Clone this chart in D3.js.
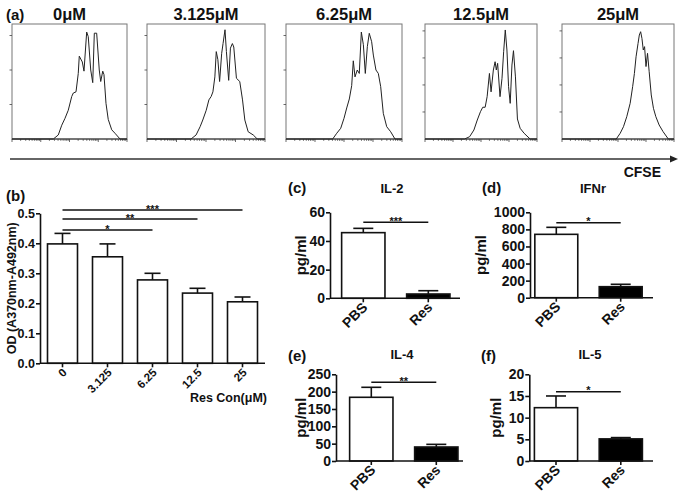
<!DOCTYPE html>
<html><head><meta charset="utf-8">
<script src="https://cdn.jsdelivr.net/npm/d3@7"></script>
<style>
body{margin:0;background:#fff}
text{font-family:Arial,"Liberation Sans",sans-serif;font-weight:bold;fill:#111}
</style>
</head><body><svg id="c" width="683" height="500"></svg>
<script>
// ---------- DATA ----------
const concLabels = ["0\u03BCM","3.125\u03BCM","6.25\u03BCM","12.5\u03BCM","25\u03BCM"];
// CFSE histograms: [channel (0-1024), % of max]
const hist0 = [[0,0],[368,0],[412,3.5],[443,12],[472,18],[501,25],[532,37],[546,40],[570,41],[590,57],[599,72],[626,67],[641,59],[665,93],[679,89],[701,60],[719,49],[733,92],[754,92],[777,60],[790,50],[808,59],[819,56],[837,31],[857,17],[888,8],[917,5],[962,0],[1024,0]];
const hist1 = [[0,0],[382,0],[426,3.5],[461,10.7],[484,16.5],[514,25],[537,34],[557,37],[572,41],[589,54],[601,76],[615,69],[630,50],[648,74.5],[660,83],[677,95],[689,76],[709,51],[724,79],[741,83],[753,80],[776,52.8],[805,50],[829,34],[849,16.5],[878,6.3],[922,3.5],[957,0],[1024,0]];
const hist2 = [[0,0],[412,0],[448,5],[483,9.3],[512,18],[536,27],[559,34.8],[580,46.4],[594,68],[609,54],[629,60],[647,57],[665,93],[683,82],[700,57],[718,80.3],[735,91.9],[756,84.6],[771,73],[794,60],[815,57],[836,45.5],[859,22.3],[889,10.7],[924,6.3],[962,0],[1024,0]];
const hist3 = [[0,0],[362,0],[408,2],[447,7.8],[478,16.5],[507,23.7],[528,27.6],[550,27.6],[568,36.8],[589,57],[604,41],[625,60],[641,67.2],[652,60],[664,65.8],[686,36.8],[704,52.8],[719,75.9],[734,94.8],[749,77.4],[764,45.5],[779,31],[795,64.3],[809,76.8],[827,54],[845,17.4],[870,9.3],[906,5],[961,0],[1024,0]];
const hist4 = [[0,0],[496,0],[532,5],[562,10.7],[592,19.4],[623,31],[646,45.5],[662,57],[677,71.5],[695,83],[707,90.4],[719,93.3],[731,87.5],[743,77.4],[755,80.3],[768,63],[782,74.5],[797,58.5],[816,38.3],[836,26.7],[858,19.4],[888,12.2],[924,6.4],[972,0],[1024,0]];
const histograms = [hist0, hist1, hist2, hist3, hist4];
const histYTicks = [[30,60,90],[30,60,90],[30,60,90],[23.5,47,70.5,94],[23.5,47,70.5,94]];

// Panel b
const odCategories = ["0","3.125","6.25","12.5","25"];
const odMeans = [0.398,0.355,0.278,0.234,0.205];
const odErrors = [0.035,0.043,0.022,0.016,0.016];
const odTicks = [0,0.1,0.2,0.3,0.4,0.5];
const odSig = [[0,2,"*",0.444],[0,3,"**",0.481],[0,4,"***",0.511]];

// Panels c-f
const groups = ["PBS","Res"];
const il2Means = [45.8,3.0],  il2Errors = [3.0,2.3],  il2Ticks = [0,20,40,60];
const ifnMeans = [742,129],   ifnErrors = [82,28],    ifnTicks = [0,200,400,600,800,1000];
const il4Means = [183.7,40.4],il4Errors = [28.8,7.6], il4Ticks = [0,50,100,150,200,250];
const il5Means = [12.3,5.1],  il5Errors = [2.7,0.3],  il5Ticks = [0,5,10,15,20];
const il2Sig = [0,1,"***",53], ifnSig = [0,1,"*",878], il4Sig = [0,1,"**",227], il5Sig = [0,1,"*",16];

// ---------- DRAW ----------
const svg = d3.select("#c");

// Panel a
svg.append("text").attr("x",6).attr("y",20).attr("font-size",15).text("(a)");
const boxes = [[12,115],[147,118],[286,116],[425,112],[562,112]];
const hTop = 24, hBot = 139;
histograms.forEach((h,i)=>{
  const [L,W] = boxes[i];
  const g = svg.append("g");
  const xl = d3.scaleLinear().domain([0,1024]).range([L,L+W]);
  const xlog = d3.scaleLog().domain([1,1e4]).range([L,L+W]);
  const y = d3.scaleLinear().domain([0,100]).range([hBot,hTop]);
  g.append("rect").attr("x",L).attr("y",hTop).attr("width",W).attr("height",hBot-hTop)
    .attr("fill","none").attr("stroke","#777").attr("stroke-width",1);
  g.append("line").attr("x1",L).attr("x2",L+W).attr("y1",hBot).attr("y2",hBot).attr("stroke","#333").attr("stroke-width",1.2);
  xlog.ticks().forEach(t=>{
    const major = Math.abs(Math.log10(t)-Math.round(Math.log10(t)))<1e-9;
    g.append("line").attr("x1",xlog(t)).attr("x2",xlog(t)).attr("y1",hBot).attr("y2",hBot+(major?3:1.8))
      .attr("stroke","#444").attr("stroke-width",0.8);
  });
  histYTicks[i].forEach(t=>{
    g.append("line").attr("x1",L-2.5).attr("x2",L).attr("y1",y(t)).attr("y2",y(t)).attr("stroke","#444").attr("stroke-width",0.8);
  });
  g.append("path").datum(h).attr("fill","none").attr("stroke","#222").attr("stroke-width",1)
    .attr("d",d3.line().x(d=>xl(d[0])).y(d=>y(d[1])));
  svg.append("text").attr("x",L+W/2).attr("y",20).attr("text-anchor","middle").attr("font-size",16.5).text(concLabels[i]);
});
// CFSE arrow
svg.append("line").attr("x1",10).attr("x2",672).attr("y1",159).attr("y2",159).attr("stroke","#333").attr("stroke-width",1.3);
svg.append("path").attr("d","M670,155.5 L678,159 L670,162.5 Z").attr("fill","#222");
svg.append("text").attr("x",661).attr("y",177).attr("text-anchor","end").attr("font-size",14).text("CFSE");

// generic bar panel
function barPanel(o){
  const g = svg.append("g");
  const x = d3.scaleBand().domain(o.cats).range(o.band).paddingInner(1/3).paddingOuter(1/6);
  const y = d3.scaleLinear().domain([o.ticks[0],o.ticks[o.ticks.length-1]]).range(o.yRange);
  const bw = x.bandwidth();
  // bars
  g.selectAll("rect.bar").data(o.means).enter().append("rect")
    .attr("x",(d,i)=>x(o.cats[i])).attr("y",d=>y(d)).attr("width",bw).attr("height",d=>y(0)-y(d))
    .attr("fill",(d,i)=>o.fills[i]).attr("stroke","#111").attr("stroke-width",1.6);
  // error bars
  o.means.forEach((m,i)=>{
    const cx = x(o.cats[i])+bw/2;
    g.append("line").attr("x1",cx).attr("x2",cx).attr("y1",y(m)).attr("y2",y(m+o.errs[i])).attr("stroke","#111").attr("stroke-width",1.6);
    g.append("line").attr("x1",cx-o.cap/2).attr("x2",cx+o.cap/2).attr("y1",y(m+o.errs[i])).attr("y2",y(m+o.errs[i])).attr("stroke","#111").attr("stroke-width",1.6);
  });
  // y axis
  const ya = g.append("g").attr("transform",`translate(${o.yAxisX},0)`)
    .call(d3.axisLeft(y).tickValues(o.ticks).tickFormat(o.fmt).tickSize(4).tickPadding(1).tickSizeOuter(0));
  ya.attr("font-family",null).attr("font-size",null);
  ya.selectAll("path,line").attr("stroke","#111").attr("stroke-width",1.6);
  ya.selectAll("text").attr("font-size",o.fs).attr("fill","#111");
  // x axis
  g.append("line").attr("x1",o.yAxisX).attr("x2",o.axisEnd).attr("y1",y(0)).attr("y2",y(0)).attr("stroke","#111").attr("stroke-width",1.6);
  o.cats.forEach((c,i)=>{
    const cx = x(c)+bw/2;
    g.append("line").attr("x1",cx).attr("x2",cx).attr("y1",y(0)).attr("y2",y(0)+4).attr("stroke","#111").attr("stroke-width",1.6);
    g.append("text").attr("text-anchor","end").attr("font-size",o.xfs)
      .attr("transform",`translate(${cx+o.lx},${y(0)+o.ly}) rotate(-45)`).text(c);
  });
  // significance
  o.sig.forEach(([i,j,lab,lvl])=>{
    const x1 = x(o.cats[i])+bw/2, x2 = x(o.cats[j])+bw/2;
    g.append("line").attr("x1",x1).attr("x2",x2).attr("y1",y(lvl)).attr("y2",y(lvl)).attr("stroke","#111").attr("stroke-width",1.5);
    g.append("text").attr("x",(x1+x2)/2).attr("y",y(lvl)+2.5).attr("text-anchor","middle").attr("font-size",11).text(lab);
  });
  // y label
  g.append("text").attr("text-anchor","middle").attr("font-size",o.ylfs)
    .attr("transform",`translate(${o.ylx},${(o.yRange[0]+o.yRange[1])/2}) rotate(-90)`).text(o.ylabel);
  // panel letter + title
  g.append("text").attr("x",o.letter[1]).attr("y",o.letter[2]).attr("font-size",15).text(o.letter[0]);
  if(o.title) g.append("text").attr("x",o.title[1]).attr("y",o.title[2]).attr("text-anchor","middle").attr("font-size",13).text(o.title[0]);
}

barPanel({cats:odCategories, means:odMeans, errs:odErrors, fills:odMeans.map(()=>"#fff"),
  band:[40,265], yRange:[363.3,213.3], ticks:odTicks, fmt:d3.format(".1f"), yAxisX:40, axisEnd:265,
  cap:16, fs:12.5, xfs:11.5, lx:5, ly:10, sig:odSig, ylabel:"OD (A370nm-A492nm)", ylx:16, ylfs:12.5,
  letter:["(b)",6,201]});
svg.append("text").attr("x",267).attr("y",402).attr("text-anchor","end").attr("font-size",12.5).text("Res Con(\u03BCM)");

barPanel({cats:groups, means:il2Means, errs:il2Errors, fills:["#fff","#000"],
  band:[330.8,460.8], yRange:[298.3,212.3], ticks:il2Ticks, fmt:d3.format("d"), yAxisX:330, axisEnd:460,
  cap:20, fs:14, xfs:14, lx:5, ly:10, sig:[il2Sig], ylabel:"pg/ml", ylx:306, ylfs:15,
  letter:["(c)",288,193], title:["IL-2",392,193]});
barPanel({cats:groups, means:ifnMeans, errs:ifnErrors, fills:["#fff","#000"],
  band:[524.1,652.9], yRange:[297.7,212.3], ticks:ifnTicks, fmt:d3.format("d"), yAxisX:530, axisEnd:653,
  cap:20, fs:14, xfs:14, lx:5, ly:10, sig:[ifnSig], ylabel:"pg/ml", ylx:486, ylfs:15,
  letter:["(d)",482,193], title:["IFNr",593,193]});
barPanel({cats:groups, means:il4Means, errs:il4Errors, fills:["#fff","#000"],
  band:[338.8,468.8], yRange:[461,374.3], ticks:il4Ticks, fmt:d3.format("d"), yAxisX:336, axisEnd:463,
  cap:20, fs:14, xfs:14, lx:5, ly:10, sig:[il4Sig], ylabel:"pg/ml", ylx:306, ylfs:15,
  letter:["(e)",288,361], title:["IL-4",402,359]});
barPanel({cats:groups, means:il5Means, errs:il5Errors, fills:["#fff","#000"],
  band:[523.6,653.2], yRange:[461,374.3], ticks:il5Ticks, fmt:d3.format("d"), yAxisX:529.3, axisEnd:653,
  cap:20, fs:14, xfs:14, lx:5, ly:10, sig:[il5Sig], ylabel:"pg/ml", ylx:501, ylfs:15,
  letter:["(f)",481,361], title:["IL-5",590,359]});
</script>
</body></html>
